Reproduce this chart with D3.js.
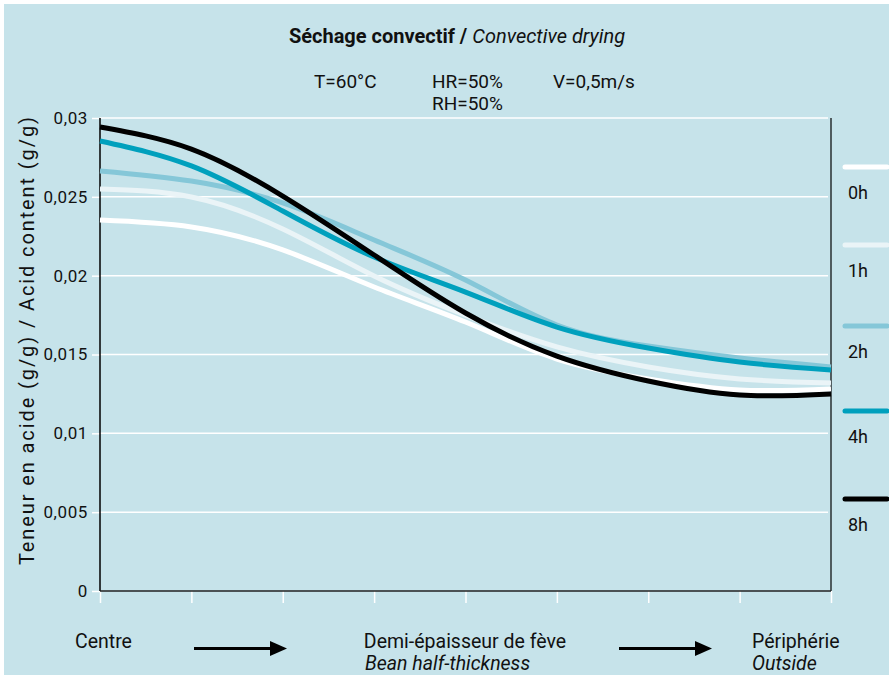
<!DOCTYPE html>
<html>
<head>
<meta charset="utf-8">
<script src="https://cdn.jsdelivr.net/npm/d3@7"></script>
<style>
  body { margin: 0; background: #fff; }
  text { font-family: Roboto, "Liberation Sans", sans-serif; fill: #111; }
</style>
</head>
<body>
<svg width="889" height="675"></svg>
<script>
// positions across the bean half-thickness, centre (0) to outside (8)
var xSteps = [0, 1, 2, 3, 4, 5, 6, 7, 8];
var seriesNames = ["0h", "1h", "2h", "4h", "8h"];
var seriesColors = ["#ffffff", "#eaf4f7", "#85c7d8", "#00a0bd", "#000000"];

// acid content (g/g)
var acid0h = [0.02353, 0.02309, 0.02163, 0.01928, 0.01706, 0.01471, 0.01345, 0.01275, 0.01281];
var acid1h = [0.02550, 0.02499, 0.02296, 0.01998, 0.01750, 0.01548, 0.01421, 0.01345, 0.01319];
var acid2h = [0.02664, 0.02600, 0.02461, 0.02226, 0.01972, 0.01687, 0.01554, 0.01478, 0.01421];
var acid4h = [0.02854, 0.02696, 0.02410, 0.02118, 0.01896, 0.01674, 0.01541, 0.01452, 0.01402];
var acid8h = [0.02943, 0.02803, 0.02505, 0.02131, 0.01763, 0.01490, 0.01332, 0.01243, 0.01250];
var allSeries = [acid0h, acid1h, acid2h, acid4h, acid8h];

var yTicks = [0, 0.005, 0.01, 0.015, 0.02, 0.025, 0.03];
var yTickLabels = ["0", "0,005", "0,01", "0,015", "0,02", "0,025", "0,03"];

var svg = d3.select("svg");
svg.append("rect").attr("x", 4).attr("y", 4).attr("width", 885).attr("height", 671).attr("fill", "#c6e3ea");

var pLeft = 100, pRight = 831, pTop = 118, pBottom = 591;
var xs = d3.scaleLinear().domain([0, 8]).range([pLeft, pRight]);
var ys = d3.scaleLinear().domain([0, 0.03]).range([pBottom, pTop]);

// gridlines
svg.append("g").selectAll("line").data(yTicks.slice(1)).enter().append("line")
  .attr("x1", pLeft).attr("x2", pRight - 3)
  .attr("y1", d => ys(d)).attr("y2", d => ys(d))
  .attr("stroke", "#fff").attr("stroke-width", 1.5);

// y axis
var yAxis = svg.append("g").attr("transform", "translate(" + pLeft + ",0)")
  .call(d3.axisLeft(ys).tickValues(yTicks).tickSize(8).tickPadding(4)
    .tickFormat((d, i) => yTickLabels[i]));
yAxis.select(".domain").remove();
yAxis.selectAll(".tick line").attr("stroke", "#fff").attr("stroke-width", 1.5);
yAxis.selectAll("text").attr("font-size", 17).attr("letter-spacing", 0.6)
  .attr("fill", "#111").style("font-family", "Roboto");

// x axis ticks
var xAxis = svg.append("g").attr("transform", "translate(0," + pBottom + ")")
  .call(d3.axisBottom(xs).tickValues(xSteps).tickSize(12).tickFormat(""));
xAxis.select(".domain").remove();
xAxis.selectAll(".tick line").attr("stroke", "#fff").attr("stroke-width", 1.5);

// frame lines
svg.append("line").attr("x1", pLeft).attr("x2", pLeft).attr("y1", pTop).attr("y2", pBottom).attr("stroke", "#000").attr("stroke-width", 1.5);
svg.append("line").attr("x1", pRight).attr("x2", pRight).attr("y1", pTop).attr("y2", pBottom).attr("stroke", "#000").attr("stroke-width", 1.2);
svg.append("line").attr("x1", pLeft).attr("x2", pRight).attr("y1", pBottom).attr("y2", pBottom).attr("stroke", "#222").attr("stroke-width", 1.5);

// curves
var line = d3.line().x((d, i) => xs(xSteps[i])).y(d => ys(d)).curve(d3.curveNatural);
svg.append("g").selectAll("path").data(allSeries).enter().append("path")
  .attr("d", line).attr("fill", "none")
  .attr("stroke", (d, i) => seriesColors[i]).attr("stroke-width", 5);

// legend
var legY = [167, 245, 326, 411, 499];
var leg = svg.append("g").selectAll("g").data(seriesNames).enter().append("g")
  .attr("transform", (d, i) => "translate(0," + legY[i] + ")");
leg.append("line").attr("x1", 845).attr("x2", 887).attr("y1", 0).attr("y2", 0)
  .attr("stroke", (d, i) => seriesColors[i]).attr("stroke-width", 5).attr("stroke-linecap", "round");
leg.append("text").attr("x", 848).attr("y", 32).attr("font-size", 18).text(d => d);

// title
var title = svg.append("text").attr("x", 457).attr("y", 43)
  .attr("text-anchor", "middle").attr("font-size", 20);
title.append("tspan").attr("font-weight", "bold").text("Séchage convectif / ");
title.append("tspan").attr("font-style", "italic").text("Convective drying");

// conditions
var cond = [["T=60°C", 314, 88], ["HR=50%", 432, 88], ["RH=50%", 432, 110], ["V=0,5m/s", 553, 88]];
svg.append("g").selectAll("text").data(cond).enter().append("text")
  .attr("x", d => d[1]).attr("y", d => d[2]).attr("font-size", 19).text(d => d[0]);

// y title
svg.append("text").attr("transform", "translate(34,341) rotate(-90)")
  .attr("text-anchor", "middle").attr("font-size", 20)
  .attr("textLength", 448).attr("lengthAdjust", "spacing")
  .text("Teneur en acide (g/g) / Acid content (g/g)");

// bottom labels
var bottomLabels = [
  ["Centre", 75, 648, "start", "normal"],
  ["Demi-épaisseur de fève", 465, 648, "middle", "normal"],
  ["Bean half-thickness", 365, 670, "start", "italic"],
  ["Périphérie", 752, 648, "start", "normal"],
  ["Outside", 752, 670, "start", "italic"]
];
svg.append("g").selectAll("text").data(bottomLabels).enter().append("text")
  .attr("x", d => d[1]).attr("y", d => d[2]).attr("text-anchor", d => d[3])
  .attr("font-style", d => d[4]).attr("font-size", 19.5).text(d => d[0]);

// arrows
[[194, 287], [619, 712]].forEach(function (a) {
  svg.append("line").attr("x1", a[0]).attr("x2", a[1] - 12).attr("y1", 648.5).attr("y2", 648.5)
    .attr("stroke", "#000").attr("stroke-width", 3);
  svg.append("path").attr("d", "M" + (a[1] - 17) + ",641 L" + a[1] + ",648.5 L" + (a[1] - 17) + ",656 Z").attr("fill", "#000");
});
</script>
</body>
</html>
